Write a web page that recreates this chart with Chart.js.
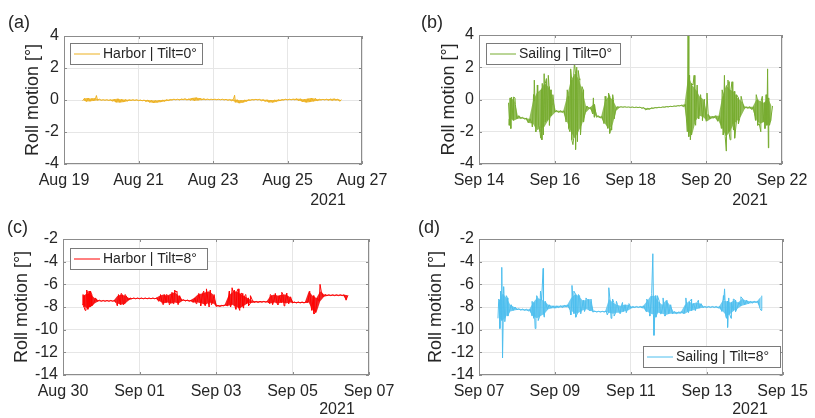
<!DOCTYPE html>
<html>
<head>
<meta charset="utf-8">
<script src="https://cdn.jsdelivr.net/npm/chart.js@4.4.1/dist/chart.umd.min.js"></script>
<style>
  html, body { margin: 0; padding: 0; background: #fff; }
  #wrap { position: relative; width: 815px; height: 418px; }
  #wrap canvas { position: absolute; left: 0; top: 0; }
</style>
</head>
<body>
<div id="wrap">
  <canvas id="pa" width="815" height="418"></canvas>
  <canvas id="pb" width="815" height="418"></canvas>
  <canvas id="pc" width="815" height="418"></canvas>
  <canvas id="pd" width="815" height="418"></canvas>
</div>
<script>
// Roll motion records, binned every 0.1 day: low / high envelope per bin, plus isolated spikes [day, deg]
const BIN_DAYS = 0.1;

// (a) Harbor | Tilt=0°  (days after Aug 19)
const aTicks = ['Aug 19', 'Aug 21', 'Aug 23', 'Aug 25', 'Aug 27'];
const aStart = 0.5;
const aLow = [
  -0.05, -0.1, -0.08, -0.05, -0.02, -0.02, -0.02, -0.03, -0.08, -0.15,
  -0.15, -0.12, -0.06, -0.03, -0.03, -0.04, -0.05, -0.1, -0.15, -0.18,
  -0.15, -0.12, -0.08, -0.04, 0.0, 0.01, 0.0, 0.02, 0.0, -0.02,
  -0.05, -0.02, 0.0, 0.02, 0.02, 0.02, 0.02, 0.01, 0.0, -0.02,
  -0.05, -0.15, -0.2, -0.15, -0.08, -0.02, 0.0, 0.0, -0.05, -0.1,
  -0.15, -0.15, -0.1, -0.05, 0.0, 0.0, 0.01, 0.0, -0.05, -0.12,
  -0.15, -0.12, -0.08, -0.05, 0.0, 0.0, -0.02, -0.03, -0.02, -0.08
];
const aHigh = [
  0.1, 0.12, 0.1, 0.12, 0.05, 0.02, 0.02, 0.02, 0.05, 0.08,
  0.05, 0.03, 0.02, 0.02, 0.02, 0.0, 0.0, 0.0, -0.02, -0.03,
  -0.02, 0.0, 0.02, 0.03, 0.05, 0.05, 0.06, 0.08, 0.06, 0.12,
  0.15, 0.12, 0.08, 0.06, 0.05, 0.05, 0.05, 0.05, 0.04, 0.03,
  0.05, 0.02, -0.02, 0.0, 0.02, 0.03, 0.04, 0.04, 0.03, 0.02,
  0.0, 0.0, 0.02, 0.03, 0.05, 0.05, 0.06, 0.08, 0.08, 0.05,
  0.08, 0.12, 0.1, 0.05, 0.04, 0.05, 0.06, 0.08, 0.06, 0.02
];
const aSpikes = [[0.87, 0.28], [4.58, 0.3]];

// (b) Sailing | Tilt=0°  (days after Sep 14)
const bTicks = ['Sep 14', 'Sep 16', 'Sep 18', 'Sep 20', 'Sep 22'];
const bStart = 0.8;
const bLow = [
  -1.2, -1.3, -1.2, -1.18, -1.22, -1.45, -1.5, -1.9, -1.8, -1.7,
  -1.3, -1.0, -0.78, -0.8, -0.8, -1.4, -2.0, -2.4, -2.0, -1.5,
  -0.8, -0.56, -0.9, -1.1, -1.15, -1.5, -1.8, -1.6, -0.7, -0.48,
  -0.48, -0.48, -0.49, -0.5, -0.5, -0.55, -0.65, -0.6, -0.55, -0.52,
  -0.5, -0.48, -0.46, -0.44, -0.42, -0.4, -0.45, -2.0, -2.2, -1.3,
  -1.0, -1.1, -1.35, -1.2, -1.15, -1.35, -1.8, -2.3, -2.0, -1.5,
  -1.3, -1.0, -0.55, -0.55, -0.62, -1.3, -1.5, -1.4, -1.6, -1.3
];
const bHigh = [
  -0.1, 0.1, -1.0, -1.1, -1.15, -1.2, -0.1, 0.4, 0.6, 1.0,
  0.8, 0.3, -0.68, -0.7, -0.7, 0.2, 1.2, 1.6, 1.3, 0.6,
  -0.4, -0.5, -0.3, -1.0, -1.05, -0.1, 0.2, 0.0, -0.45, -0.45,
  -0.45, -0.46, -0.46, -0.47, -0.47, -0.5, -0.55, -0.52, -0.5, -0.48,
  -0.46, -0.44, -0.42, -0.4, -0.38, -0.35, -0.3, 1.5, 0.9, 0.6,
  0.2, 0.0, -0.9, -1.05, -1.0, -1.0, 0.2, 0.9, 0.6, 0.5,
  0.1, -0.1, -0.45, -0.45, -0.45, 0.0, -0.1, -0.2, 0.1, -0.4
];
const bSpikes = [
  [0.78, -0.2], [0.8, -1.6], [0.82, 0.1], [0.84, -1.8], [0.86, 0.15], [0.9, -1.3], [0.92, 0.15], [0.96, -0.3],
  [1.41, -1.7], [1.44, 0.3], [1.46, 1.2], [1.5, -2.0], [1.54, 0.9], [1.57, -1.6], [1.61, -2.0], [1.63, -2.4],
  [1.66, -2.5], [1.67, 1.0], [1.7, -2.2], [1.72, 1.6], [1.75, -1.4], [1.78, 1.3], [1.83, 1.5], [1.86, -1.6],
  [1.9, 0.6], [1.93, -0.3],
  [2.33, 0.6], [2.37, -1.8], [2.42, 1.9], [2.45, -2.5], [2.48, -2.8], [2.5, 1.5], [2.52, 2.3], [2.55, -3.1],
  [2.58, 2.0], [2.6, -2.6], [2.62, 1.8], [2.66, 1.2], [2.68, -2.2], [2.72, 0.8], [2.76, -1.4],
  [3.02, 0.1], [3.04, -1.1], [3.33, 0.2], [3.37, -1.5], [3.42, 0.4], [3.45, -2.1], [3.5, -1.9], [3.53, 0.3],
  [3.57, -1.2],
  [5.52, 4.0], [5.54, -2.3], [5.56, 1.1], [5.58, -2.5], [5.6, -1.9], [5.62, 1.0], [5.68, 1.5], [5.72, -1.6],
  [5.76, 0.9], [5.8, -1.2], [5.85, 0.3], [5.9, -1.3], [5.95, -0.1], [6.02, 0.4],
  [6.42, 0.6], [6.45, -2.2], [6.48, 1.5], [6.53, -3.2], [6.57, 1.2], [6.6, 1.1], [6.63, -2.5], [6.68, 1.1],
  [6.72, -1.9], [6.75, -2.4], [6.8, 0.3], [6.85, -1.5], [6.92, 0.2],
  [7.32, 0.3], [7.36, -1.6], [7.44, -2.0], [7.48, 0.2], [7.55, -1.8], [7.58, 0.3], [7.62, 1.9], [7.64, -3.0],
  [7.67, -1.6]
];

// (c) Harbor | Tilt=8°  (days after Aug 30)
const cTicks = ['Aug 30', 'Sep 01', 'Sep 03', 'Sep 05', 'Sep 07'];
const cStart = 0.5;
const cLow = [
  -7.8, -8.1, -8.0, -7.7, -7.5, -7.5, -7.5, -7.5, -7.5, -7.7,
  -7.8, -7.7, -7.4, -7.28, -7.28, -7.28, -7.28, -7.28, -7.28, -7.28,
  -7.5, -7.7, -7.6, -7.7, -7.6, -7.7, -7.45, -7.48, -7.5, -7.6,
  -7.6, -7.7, -7.8, -7.6, -7.7, -7.95, -7.95, -7.9, -7.9, -7.8,
  -8.0, -8.1, -7.9, -7.7, -7.65, -7.6, -7.6, -7.58, -7.58, -7.7,
  -7.6, -7.7, -7.6, -7.7, -7.6, -7.65, -7.65, -7.65, -7.65, -7.6,
  -8.3, -8.5, -7.5, -7.1, -7.0, -7.0, -7.0, -7.0, -7.0, -7.4
];
const cHigh = [
  -7.0, -6.8, -6.9, -7.2, -7.4, -7.42, -7.42, -7.42, -7.42, -7.0,
  -6.9, -7.0, -7.2, -7.2, -7.2, -7.2, -7.2, -7.2, -7.2, -7.2,
  -7.0, -6.9, -7.0, -6.8, -6.7, -7.0, -7.35, -7.38, -7.4, -7.2,
  -6.9, -6.8, -6.7, -6.6, -6.9, -7.85, -7.85, -7.8, -7.0, -6.7,
  -6.6, -6.8, -7.0, -7.2, -7.4, -7.5, -7.5, -7.5, -7.5, -7.0,
  -6.9, -7.0, -6.9, -6.9, -7.1, -7.55, -7.55, -7.55, -7.55, -6.6,
  -7.0, -7.2, -6.6, -6.9, -6.92, -6.92, -6.92, -6.92, -6.92, -6.95
];
const cSpikes = [
  [0.52, -6.9], [0.55, -8.0], [0.58, -8.3], [0.62, -6.5], [0.65, -8.2], [0.68, -6.6], [0.72, -6.6], [0.75, -7.9],
  [1.42, -7.9], [1.45, -6.9], [1.52, -6.8], [1.58, -7.8], [1.62, -6.9],
  [2.55, -6.9], [2.62, -7.8], [2.7, -6.9], [2.78, -7.8], [2.85, -6.7], [2.88, -7.7], [2.92, -6.5], [2.98, -6.6],
  [3.01, -7.8],
  [3.48, -7.7], [3.55, -6.8], [3.6, -7.9], [3.68, -6.6], [3.72, -7.9], [3.75, -6.4], [3.82, -8.0], [3.85, -6.5],
  [3.88, -7.8],
  [4.35, -6.6], [4.38, -8.0], [4.42, -6.3], [4.48, -6.5], [4.52, -8.2], [4.58, -6.4], [4.62, -8.3], [4.68, -6.8],
  [4.72, -8.1], [4.78, -6.9], [4.85, -7.9], [4.9, -7.0],
  [5.42, -6.9], [5.48, -7.8], [5.55, -6.8], [5.62, -7.8], [5.72, -6.7], [5.78, -7.9], [5.85, -6.8], [5.9, -7.7],
  [6.56, -8.6], [6.72, -6.0]
];

// (d) Sailing | Tilt=8°  (days after Sep 07)
const dTicks = ['Sep 07', 'Sep 09', 'Sep 11', 'Sep 13', 'Sep 15'];
const dStart = 0.5;
const dLow = [
  -9.0, -9.2, -8.8, -8.4, -8.3, -8.25, -8.28, -8.3, -8.35, -8.8,
  -9.0, -8.8, -8.6, -8.2, -8.1, -8.1, -8.05, -8.05, -8.0, -8.3,
  -8.6, -8.5, -8.3, -8.2, -8.3, -8.45, -8.45, -8.45, -8.45, -8.5,
  -8.6, -8.5, -8.5, -8.4, -8.3, -8.1, -8.05, -8.05, -8.1, -8.4,
  -8.6, -8.7, -8.5, -8.6, -8.7, -8.6, -8.6, -8.6, -8.55, -8.6,
  -8.4, -8.3, -8.2, -8.1, -8.05, -8.05, -8.05, -8.05, -8.1, -8.4,
  -8.8, -8.6, -8.3, -8.1, -7.9, -7.8, -7.7, -7.65, -7.6, -8.1
];
const dHigh = [
  -7.5, -6.8, -7.2, -7.8, -8.0, -8.15, -8.18, -8.2, -8.2, -7.6,
  -7.2, -7.3, -7.5, -7.8, -7.9, -7.9, -7.9, -7.85, -7.8, -7.2,
  -6.9, -7.0, -7.4, -7.4, -7.3, -8.35, -8.38, -8.38, -8.35, -7.3,
  -7.6, -7.8, -7.9, -7.8, -7.8, -7.95, -7.95, -7.95, -7.9, -7.5,
  -7.0, -7.0, -7.5, -7.8, -7.4, -7.8, -8.4, -8.45, -8.4, -7.8,
  -7.5, -7.7, -7.6, -7.7, -7.95, -7.95, -7.95, -7.95, -7.95, -7.4,
  -7.5, -7.6, -7.4, -7.6, -7.3, -7.4, -7.5, -7.5, -7.5, -7.1
];
const dSpikes = [
  [0.52, -7.3], [0.55, -9.9], [0.57, -6.6], [0.6, -4.5], [0.62, -12.5], [0.65, -6.2], [0.68, -9.3], [0.72, -7.0],
  [0.76, -8.8],
  [1.4, -7.5], [1.44, -9.0], [1.48, -9.9], [1.52, -7.0], [1.56, -9.2], [1.62, -6.6], [1.65, -7.4], [1.69, -4.6],
  [1.72, -8.9],
  [2.42, -8.7], [2.45, -6.1], [2.5, -6.6], [2.55, -8.9], [2.62, -6.9], [2.68, -8.6], [2.78, -8.4], [2.82, -7.2],
  [2.88, -7.3], [2.93, -8.3],
  [3.38, -8.7], [3.42, -6.3], [3.48, -9.0], [3.52, -7.3], [3.56, -8.8], [3.62, -7.5], [3.72, -8.6], [3.78, -7.6],
  [3.88, -8.5], [3.95, -7.7],
  [4.42, -7.3], [4.5, -8.8], [4.55, -6.8], [4.58, -3.3], [4.61, -10.5], [4.66, -8.9], [4.7, -7.0], [4.78, -8.6],
  [4.85, -7.2], [4.9, -8.8], [4.95, -7.4],
  [5.45, -7.2], [5.52, -8.5], [5.6, -7.3], [5.7, -8.3], [5.78, -7.4],
  [6.44, -7.0], [6.47, -6.4], [6.52, -9.0], [6.55, -9.8], [6.58, -7.2], [6.64, -9.0], [6.7, -7.3], [6.76, -8.4],
  [6.9, -7.1], [7.43, -8.3], [7.45, -7.0]
];

Chart.defaults.font.family = '"Liberation Sans", Arial, sans-serif';
Chart.defaults.color = '#262626';

// zigzag through each bin's envelope, then drop the spikes in by time
function buildSeries(start, low, high, spikes) {
    const pts = [];
    low.forEach((lo, i) => {
        const t = start + i * BIN_DAYS;
        pts.push({ x: t, y: lo });
        pts.push({ x: t + BIN_DAYS / 2, y: high[i] });
    });
    spikes.forEach(([x, y]) => pts.push({ x, y }));
    return pts.sort((p, q) => p.x - q.x);
}

// one edge of the envelope band, placed at bin centres
function buildEdge(start, vals) {
    return vals.map((v, i) => ({ x: start + i * BIN_DAYS + BIN_DAYS / 4, y: v }));
}

// axes box, inward ticks, legend, panel letter and year
const decorPlugin = {
    id: 'decor',
    afterDraw(chart, args, opts) {
        const { ctx, chartArea: a } = chart;
        const xs = chart.scales.x, ys = chart.scales.y;
        ctx.save();
        ctx.strokeStyle = '#8c8c8c';
        ctx.lineWidth = 1;
        ctx.beginPath();
        xs.ticks.forEach(t => {
            const px = Math.round(xs.getPixelForValue(t.value)) + 0.5;
            ctx.moveTo(px, a.bottom); ctx.lineTo(px, a.bottom - 3);
            ctx.moveTo(px, a.top); ctx.lineTo(px, a.top + 3);
        });
        ys.ticks.forEach(t => {
            const py = Math.round(ys.getPixelForValue(t.value)) + 0.5;
            ctx.moveTo(a.left, py); ctx.lineTo(a.left + 3, py);
            ctx.moveTo(a.right, py); ctx.lineTo(a.right - 3, py);
        });
        ctx.stroke();
        ctx.strokeRect(Math.round(a.left) + 0.5, Math.round(a.top) + 0.5,
            Math.round(a.width) - 1, Math.round(a.height) - 1);

        // legend
        const lg = opts.legend;
        ctx.fillStyle = '#fff';
        ctx.fillRect(lg.x, lg.y, lg.w, lg.h);
        ctx.strokeStyle = '#7a7a7a';
        ctx.strokeRect(lg.x + 0.5, lg.y + 0.5, lg.w, lg.h);
        const my = lg.y + lg.h / 2 + 0.5;
        ctx.strokeStyle = opts.color;
        ctx.beginPath();
        ctx.moveTo(lg.x + 4, my); ctx.lineTo(lg.x + 30, my);
        ctx.stroke();
        ctx.fillStyle = '#262626';
        ctx.font = '14px "Liberation Sans", Arial, sans-serif';
        ctx.textAlign = 'left';
        ctx.textBaseline = 'middle';
        ctx.fillText(opts.text, lg.x + 33, my + 0.5);

        // panel letter
        ctx.font = '18px "Liberation Sans", Arial, sans-serif';
        ctx.fillText(opts.panel, opts.panelAt[0], opts.panelAt[1]);

        // year under the last tick
        ctx.font = '16px "Liberation Sans", Arial, sans-serif';
        ctx.textAlign = 'center';
        ctx.fillText('2021', opts.yearAt[0], opts.yearAt[1]);
        ctx.restore();
    }
};

function makePanel(id, p) {
    return new Chart(document.getElementById(id), {
        type: 'line',
        data: {
            datasets: [{
                data: buildSeries(p.start, p.low, p.high, p.spikes),
                borderColor: p.color,
                borderWidth: 1,
                pointRadius: 0,
                fill: false,
                tension: 0,
                order: 0
            }, {
                data: buildEdge(p.start, p.low),
                borderWidth: 0,
                borderColor: 'transparent',
                pointRadius: 0,
                fill: false,
                tension: 0,
                order: 1
            }, {
                data: buildEdge(p.start, p.high),
                borderWidth: 0,
                borderColor: 'transparent',
                backgroundColor: p.band,
                pointRadius: 0,
                fill: 1,
                tension: 0,
                order: 1
            }]
        },
        options: {
            responsive: false,
            animation: false,
            devicePixelRatio: 1,
            layout: { padding: p.pad },
            events: [],
            plugins: {
                legend: { display: false },
                tooltip: { enabled: false },
                filler: { propagate: false },
                decor: {
                    legend: p.legend,
                    text: p.label,
                    color: p.color,
                    panel: p.panel,
                    panelAt: p.panelAt,
                    yearAt: p.yearAt
                }
            },
            scales: {
                x: {
                    type: 'linear',
                    min: 0,
                    max: 8,
                    afterFit: s => { s.height = 30; },
                    ticks: {
                        stepSize: 2,
                        autoSkip: false,
                        maxRotation: 0,
                        padding: 7,
                        font: { size: 16 },
                        callback: v => p.ticks[v / 2]
                    },
                    grid: { color: '#e6e6e6', drawTicks: false },
                    border: { display: false }
                },
                y: {
                    min: p.yMin,
                    max: p.yMax,
                    afterFit: s => { s.width = p.yWidth; },
                    ticks: { stepSize: 2, padding: 5, font: { size: 16 } },
                    grid: { color: '#e6e6e6', drawTicks: false },
                    border: { display: false },
                    title: {
                        display: true,
                        text: 'Roll motion [°]',
                        font: { size: 18 },
                        padding: 0
                    }
                }
            }
        },
        plugins: [decorPlugin]
    });
}

makePanel('pa', {
    start: aStart, low: aLow, high: aHigh, spikes: aSpikes, ticks: aTicks,
    color: '#EDB120', band: 'rgba(237,177,32,0.85)', label: 'Harbor | Tilt=0°', panel: '(a)',
    yMin: -4, yMax: 4, yWidth: 42,
    pad: { left: 22, right: 453, top: 36, bottom: 224 },
    legend: { x: 70, y: 43, w: 132, h: 21 },
    panelAt: [8, 23], yearAt: [328, 201]
});
makePanel('pb', {
    start: bStart, low: bLow, high: bHigh, spikes: bSpikes, ticks: bTicks,
    color: '#77AC30', band: 'rgba(119,172,48,0.8)', label: 'Sailing | Tilt=0°', panel: '(b)',
    yMin: -4, yMax: 4, yWidth: 41,
    pad: { left: 438, right: 33, top: 35, bottom: 224 },
    legend: { x: 486, y: 43, w: 134, h: 21 },
    panelAt: [421, 23], yearAt: [750, 201]
});
makePanel('pc', {
    start: cStart, low: cLow, high: cHigh, spikes: cSpikes, ticks: cTicks,
    color: '#FF0000', band: 'rgba(240,0,0,0.85)', label: 'Harbor | Tilt=8°', panel: '(c)',
    yMin: -14, yMax: -2, yWidth: 52,
    pad: { left: 11, right: 446, top: 239, bottom: 13 },
    legend: { x: 70, y: 248, w: 137, h: 21 },
    panelAt: [7, 228], yearAt: [337, 410]
});
makePanel('pd', {
    start: dStart, low: dLow, high: dHigh, spikes: dSpikes, ticks: dTicks,
    color: '#4DBEEE', band: 'rgba(77,190,238,0.8)', label: 'Sailing | Tilt=8°', panel: '(d)',
    yMin: -14, yMax: -2, yWidth: 54,
    pad: { left: 425, right: 30, top: 239, bottom: 13 },
    legend: { x: 643, y: 346, w: 137, h: 21 },
    panelAt: [418, 228], yearAt: [750, 410]
});
</script>
</body>
</html>
